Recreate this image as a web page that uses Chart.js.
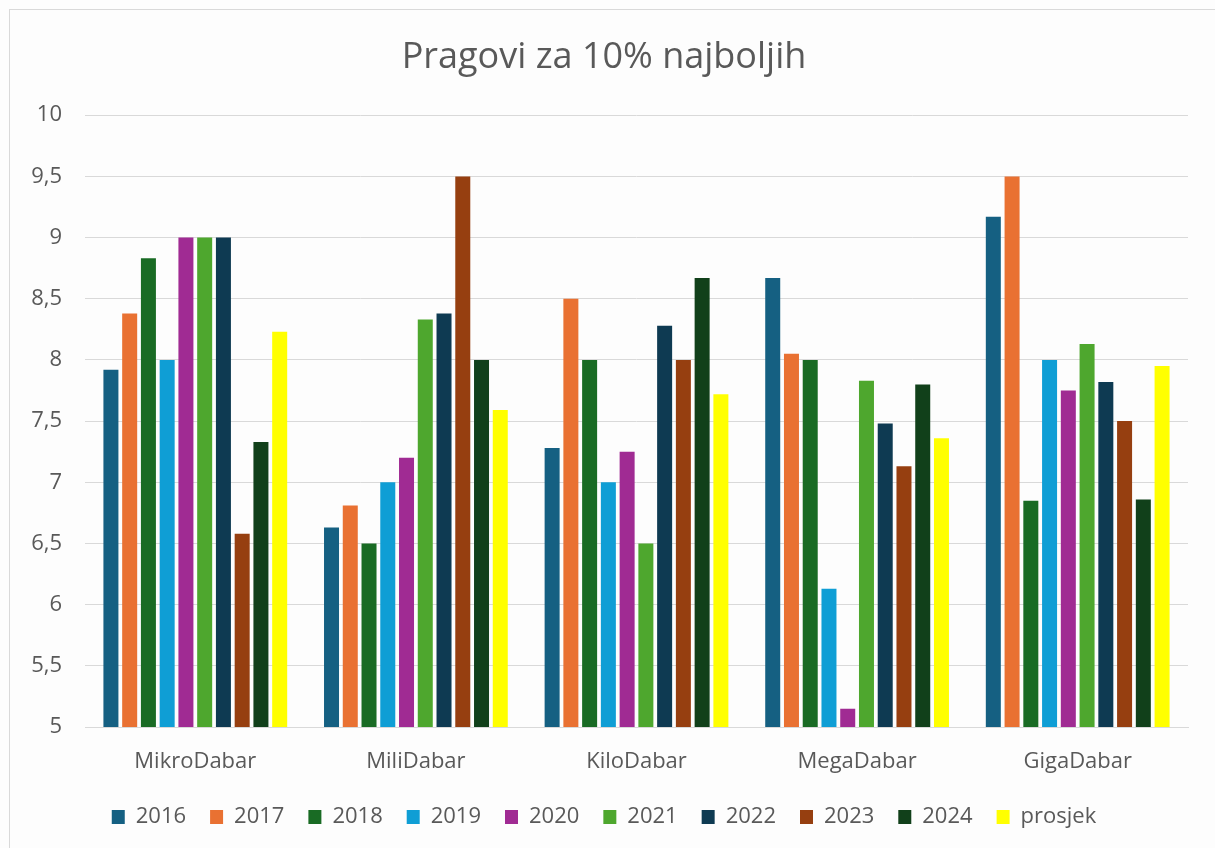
<!DOCTYPE html>
<html>
<head>
<meta charset="utf-8">
<script src="https://cdn.jsdelivr.net/npm/chart.js@4/dist/chart.umd.min.js"></script>
<style>
  body { margin: 0; background: #fff; }
  #wrap { position: relative; width: 1215px; height: 848px; background: #fdfdfd; }
  #frame { position: absolute; left: 9px; top: 9px; width: 1215px; height: 848px; border: 1px solid #d9d9d9; }
  canvas { position: absolute; left: 0; top: 0; }
</style>
</head>
<body>
<div id="wrap">
  <div id="frame"></div>
  <canvas id="chart" width="1215" height="848"></canvas>
</div>
<script>
const categories = ['MikroDabar', 'MiliDabar', 'KiloDabar', 'MegaDabar', 'GigaDabar'];
const seriesNames = ['2016', '2017', '2018', '2019', '2020', '2021', '2022', '2023', '2024', 'prosjek'];

const v2016 = [7.92, 6.63, 7.28, 8.67, 9.17];
const v2017 = [8.38, 6.81, 8.5, 8.05, 9.5];
const v2018 = [8.83, 6.5, 8.0, 8.0, 6.85];
const v2019 = [8.0, 7.0, 7.0, 6.13, 8.0];
const v2020 = [9.0, 7.2, 7.25, 5.15, 7.75];
const v2021 = [9.0, 8.33, 6.5, 7.83, 8.13];
const v2022 = [9.0, 8.38, 8.28, 7.48, 7.82];
const v2023 = [6.58, 9.5, 8.0, 7.13, 7.5];
const v2024 = [7.33, 8.0, 8.67, 7.8, 6.86];
const prosjek = [8.23, 7.59, 7.72, 7.36, 7.95];

const yTicks = [5, 5.5, 6, 6.5, 7, 7.5, 8, 8.5, 9, 9.5, 10];

const allValues = [v2016, v2017, v2018, v2019, v2020, v2021, v2022, v2023, v2024, prosjek];
const colors = ['#156082', '#e97132', '#196b24', '#0f9ed5', '#a02b93', '#4ea72e', '#0e3a52', '#963f10', '#11401a', '#ffff00'];

const textColor = '#595959';
const font = '"Open Sans", "Noto Sans", sans-serif';

const datasets = seriesNames.map((name, i) => ({
    label: name,
    data: allValues[i],
    backgroundColor: colors[i],
    borderWidth: 0,
    categoryPercentage: 0.85,
    barPercentage: 0.8
}));

new Chart(document.getElementById('chart'), {
    type: 'bar',
    data: { labels: categories, datasets },
    options: {
        responsive: false,
        animation: false,
        layout: { padding: { left: 20, right: 27, top: 0, bottom: 10 } },
        plugins: {
            title: {
                display: true,
                text: 'Pragovi za 10% najboljih',
                color: textColor,
                font: { family: font, size: 36, weight: 'normal' },
                padding: { top: 36, bottom: 36 }
            },
            legend: {
                position: 'bottom',
                labels: {
                    color: textColor,
                    font: { family: font, size: 22 },
                    boxWidth: 13,
                    boxHeight: 14,
                    padding: 24
                }
            },
            tooltip: { enabled: false }
        },
        scales: {
            x: {
                grid: { display: false },
                border: { color: '#d9d9d9' },
                ticks: { color: textColor, font: { family: font, size: 22 }, padding: 14 },
                afterFit: s => { s.height = 55; }
            },
            y: {
                min: 5,
                max: 10,
                afterBuildTicks: s => { s.ticks = yTicks.map(v => ({ value: v })); },
                grid: { color: '#d9d9d9', drawTicks: false },
                border: { display: false },
                ticks: {
                    color: textColor,
                    font: { family: font, size: 22 },
                    padding: 23,
                    callback: v => String(v).replace('.', ',')
                },
                afterFit: s => { s.width = 65; }
            }
        }
    }
});
</script>
</body>
</html>
